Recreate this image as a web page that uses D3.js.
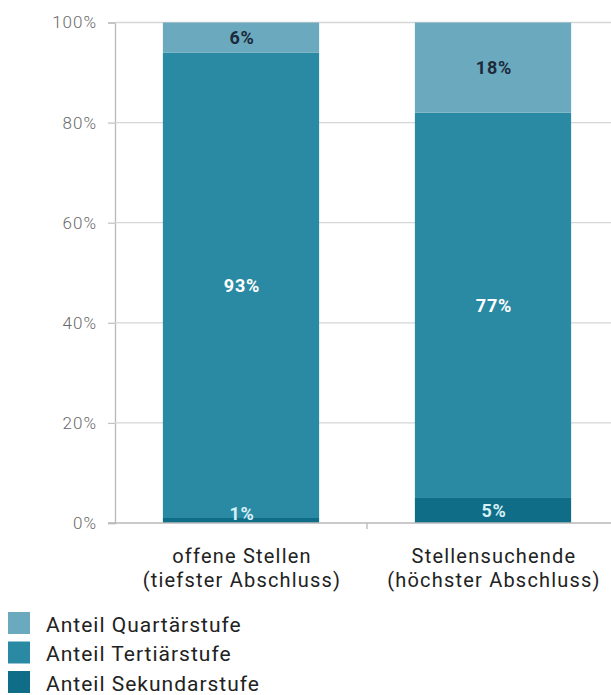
<!DOCTYPE html>
<html>
<head>
<meta charset="utf-8">
<script src="https://cdn.jsdelivr.net/npm/d3@7"></script>
<style>
  body { margin: 0; background: #fff; }
  svg { display: block; }
</style>
</head>
<body>
<div id="chart"></div>
<script>
// DATEN
var kategorien = ['offene Stellen|(tiefster Abschluss)', 'Stellensuchende|(höchster Abschluss)'];
var serien = ['Anteil Sekundarstufe', 'Anteil Tertiärstufe', 'Anteil Quartärstufe'];
var sekundar = [1, 5];
var tertiar = [93, 77];
var quartar = [6, 18];
var yTicks = [0, 20, 40, 60, 80, 100];
var farben = ['#0f6d88', '#2a8aa3', '#6aa9be'];
var labelFarben = ['#d6f0f6', '#ffffff', '#1c2a3a'];

var width = 611, height = 695;
var svg = d3.select('#chart').append('svg').attr('width', width).attr('height', height);

// SKALEN
var x = d3.scaleBand().domain(kategorien).range([115, 619]).paddingInner(0.38).paddingOuter(0.19);
var y = d3.scaleLinear().domain([0, 100]).range([523, 22.5]);

// GITTER + ACHSE Y
var gy = svg.append('g').attr('transform', 'translate(115,0)')
    .call(d3.axisLeft(y).tickValues(yTicks).tickSize(7).tickFormat(function (d) { return d + '%'; }));
gy.select('.domain').attr('stroke', '#b8b8b8').attr('stroke-width', 1.3);
gy.selectAll('.tick line').attr('stroke', '#c4c4c4').attr('stroke-width', 1.3);
gy.selectAll('.tick text')
    .attr('x', -18)
    .attr('font-family', 'Roboto, sans-serif')
    .attr('font-weight', 300)
    .attr('font-size', '17px')
    .attr('letter-spacing', '1px')
    .attr('fill', '#6a6a6a');

svg.append('g').selectAll('line').data(yTicks.filter(function (d) { return d > 0; })).enter().append('line')
    .attr('x1', 115).attr('x2', width)
    .attr('y1', function (d) { return y(d); }).attr('y2', function (d) { return y(d); })
    .attr('stroke', '#d6d6d6').attr('stroke-width', 1.3);

// STAPEL
var tabelle = kategorien.map(function (k, i) {
    return { kat: k, 'Anteil Sekundarstufe': sekundar[i], 'Anteil Tertiärstufe': tertiar[i], 'Anteil Quartärstufe': quartar[i] };
});
var stack = d3.stack().keys(serien)(tabelle);

var gruppen = svg.append('g').selectAll('g').data(stack).enter().append('g')
    .attr('fill', function (d, i) { return farben[i]; });
gruppen.selectAll('rect').data(function (d) { return d; }).enter().append('rect')
    .attr('x', function (d) { return x(d.data.kat); })
    .attr('width', x.bandwidth())
    .attr('y', function (d) { return y(d[1]); })
    .attr('height', function (d) { return y(d[0]) - y(d[1]); });

// ACHSE X
var gx = svg.append('g').attr('transform', 'translate(0,523)');
gx.append('line').attr('x1', 108).attr('x2', width).attr('stroke', '#b8b8b8').attr('stroke-width', 1.3);
var grenzen = [x.step() + 115, 2 * x.step() + 115];
gx.selectAll('.grenze').data(grenzen).enter().append('line')
    .attr('x1', function (d) { return d; }).attr('x2', function (d) { return d; })
    .attr('y1', 0).attr('y2', 6)
    .attr('stroke', '#b8b8b8').attr('stroke-width', 1.3);

// WERTE
stack.forEach(function (serie, si) {
    svg.append('g').selectAll('text').data(serie).enter().append('text')
        .attr('x', function (d) { return x(d.data.kat) + x.bandwidth() / 2 + 1; })
        .attr('y', function (d) {
            var mitte = (y(d[0]) + y(d[1])) / 2;
            return Math.min(mitte, y(0) - 10) + 6.5;
        })
        .attr('text-anchor', 'middle')
        .attr('font-family', 'Roboto, sans-serif')
        .attr('font-weight', 'bold')
        .attr('font-size', '18px')
        .attr('letter-spacing', '0.8px')
        .attr('fill', labelFarben[si])
        .text(function (d) { return (d[1] - d[0]) + '%'; });
});

// KATEGORIEN
kategorien.forEach(function (k) {
    var t = svg.append('text')
        .attr('x', x(k) + x.bandwidth() / 2)
        .attr('y', 563)
        .attr('text-anchor', 'middle')
        .attr('font-family', 'Roboto, sans-serif')
        .attr('font-size', '20px')
        .attr('letter-spacing', '1.2px')
        .attr('fill', '#222');
    k.split('|').forEach(function (z, i) {
        t.append('tspan').attr('x', x(k) + x.bandwidth() / 2 + 1).attr('dy', i ? 24 : 0).text(z);
    });
});

// LEGENDE
var legende = serien.slice().reverse();
var lg = svg.append('g').selectAll('g').data(legende).enter().append('g')
    .attr('transform', function (d, i) { return 'translate(8,' + (612 + i * 29.5) + ')'; });
lg.append('rect').attr('width', 22).attr('height', 22)
    .attr('fill', function (d) { return farben[serien.indexOf(d)]; });
lg.append('text').attr('x', 38).attr('y', 19.5)
    .attr('font-family', 'Roboto, sans-serif')
    .attr('font-size', '21px')
    .attr('letter-spacing', '1px')
    .attr('fill', '#222')
    .text(function (d) { return d; });
</script>
</body>
</html>
